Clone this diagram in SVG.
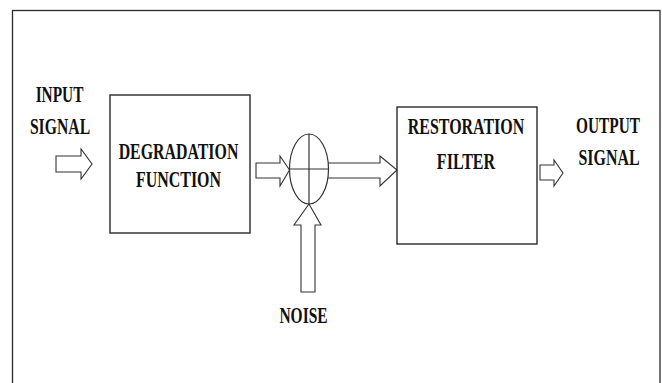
<svg xmlns="http://www.w3.org/2000/svg" width="662" height="383" viewBox="0 0 662 383">
<style>
.frame{fill:none;stroke:#2a2a2a;stroke-width:1.3}
.box{fill:#fff;stroke:#1a1a1a;stroke-width:1.3}
.arr{fill:#fff;stroke:#333;stroke-width:1.1;stroke-linejoin:miter}
.sum{fill:#fff;stroke:#333;stroke-width:1.2}
.lbl{font-family:"Liberation Serif","Times New Roman",serif;font-weight:bold;font-size:24px;fill:#111;text-anchor:middle}
</style>
<rect width="662" height="383" fill="#fff"/>
<rect class="frame" x="12.5" y="10.5" width="647.5" height="390"/>

<g id="connectors">
  <path class="arr" d="M56,156 H81 V149 L92,164 L81,179 V172 H56 Z"/>
  <path class="arr" d="M256,163 H280 V156 L289.5,170 L280,186 V178 H256 Z"/>
  <path class="arr" d="M328,163 H380 V156 L397,170 L380,186 V178 H328"/>
  <path class="arr" d="M301,292 V225 H294 L309,204 L321,225 H315 V292 Z"/>
  <path class="arr" d="M540,165 H554 V160 L563,173 L554,186 V180 H540 Z"/>
</g>

<g id="input">
  <text class="lbl" transform="translate(59.5,101.5) scale(0.64,1)">INPUT</text>
  <text class="lbl" transform="translate(60,134) scale(0.655,1)">SIGNAL</text>
</g>

<g id="degradation">
  <rect class="box" x="110" y="95" width="140" height="138"/>
  <text class="lbl" transform="translate(178.5,159) scale(0.662,1)">DEGRADATION</text>
  <text class="lbl" transform="translate(178.5,186.5) scale(0.664,1)">FUNCTION</text>
</g>

<g id="summer">
  <ellipse class="sum" cx="309" cy="169" rx="19.5" ry="35"/>
  <line class="sum" x1="289.5" y1="169" x2="328.5" y2="169"/>
  <line class="sum" x1="309" y1="134" x2="309" y2="204"/>
</g>

<g id="noise">
  <text class="lbl" transform="translate(303.5,323) scale(0.645,1)">NOISE</text>
</g>

<g id="restoration">
  <rect class="box" x="397" y="107" width="140" height="137"/>
  <text class="lbl" transform="translate(466,134) scale(0.665,1)">RESTORATION</text>
  <text class="lbl" transform="translate(466,169) scale(0.67,1)">FILTER</text>
</g>

<g id="output">
  <text class="lbl" transform="translate(608,133) scale(0.64,1)">OUTPUT</text>
  <text class="lbl" transform="translate(609,165) scale(0.663,1)">SIGNAL</text>
</g>
</svg>
